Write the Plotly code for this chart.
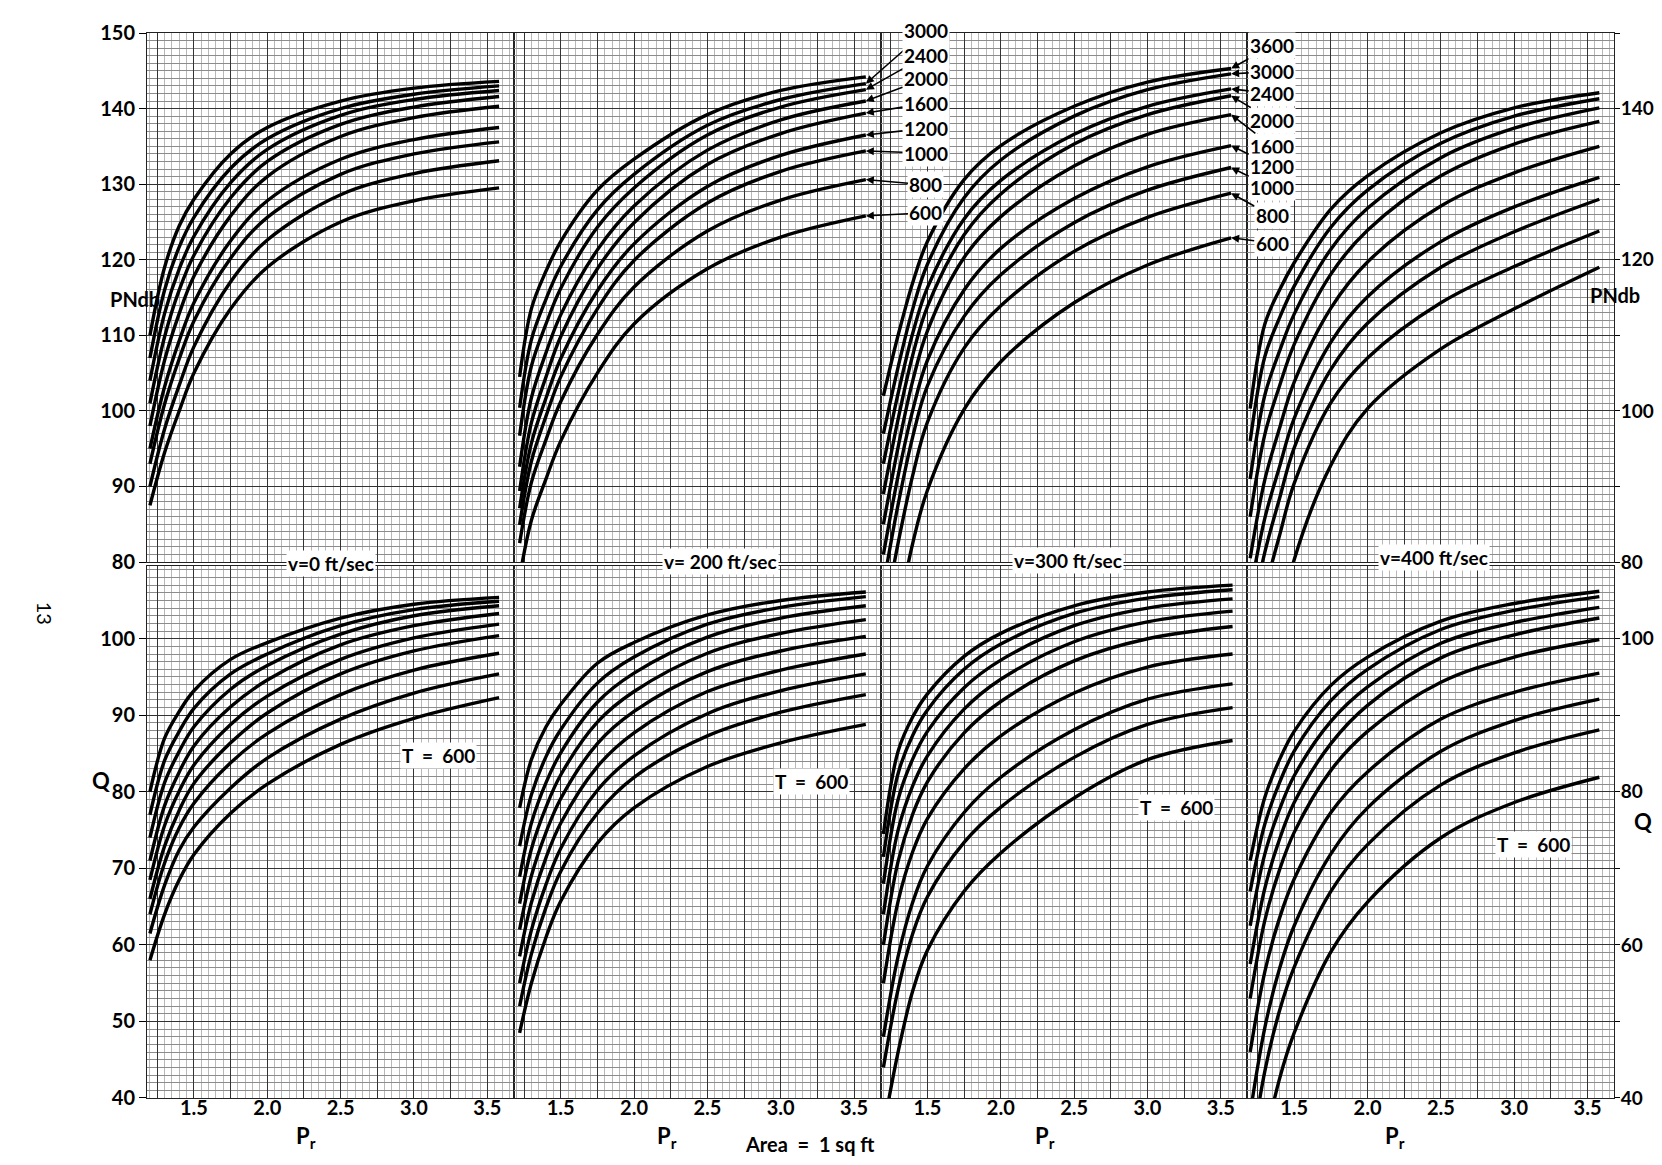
import plotly.graph_objects as go

# ---------------- data ----------------
T_LEVELS = [3600, 3000, 2400, 2000, 1600, 1200, 1000, 800, 600]

# Top row: PNdb vs Pr
PR_TOP_V0 = [1.2, 1.3, 1.4, 1.5, 1.75, 2.0, 2.5, 3.0, 3.58]
PNDB_V0 = {
    3600: [110, 119, 124.5, 128, 134, 137.5, 141, 142.7, 143.6],
    3000: [107.0, 116.0, 121.7, 125.6, 132.1, 136.0, 140.0, 141.9, 143.0],
    2400: [104.0, 112.9, 118.8, 123.1, 130.2, 134.6, 139.1, 141.2, 142.4],
    2000: [101.0, 109.8, 116.0, 120.6, 128.2, 133.0, 137.9, 140.2, 141.6],
    1600: [98.0, 106.7, 112.9, 117.8, 125.8, 131.0, 136.3, 138.8, 140.3],
    1200: [95.0, 103.2, 109.3, 114.3, 122.5, 127.8, 133.3, 135.9, 137.5],
    1000: [93.0, 100.9, 106.9, 111.9, 120.2, 125.6, 131.3, 134.0, 135.6],
    800: [90.0, 97.6, 103.4, 108.5, 117.1, 122.6, 128.6, 131.4, 133.1],
    600: [87.5, 94.5, 100, 105, 113.5, 119, 125, 127.8, 129.5],
}

PR_TOP_V200 = [1.22, 1.3, 1.4, 1.5, 1.75, 2.0, 2.5, 3.0, 3.58]
PNDB_V200 = {
    3600: [104.5, 113.5, 118.5, 122.4, 129.2, 133.3, 139.2, 142.4, 144.2],
    3000: [100.4, 109.4, 114.8, 119.1, 126.6, 131.3, 137.8, 141.2, 143.3],
    2400: [96.7, 105.9, 111.5, 116.2, 124.3, 129.5, 136.5, 140.2, 142.5],
    2000: [92.6, 101.7, 107.7, 112.7, 121.3, 127.1, 134.5, 138.5, 141.0],
    1600: [89.4, 98.4, 104.5, 109.8, 118.8, 124.9, 132.6, 136.7, 139.4],
    1200: [87.1, 95.7, 101.7, 106.9, 115.9, 122.1, 129.7, 133.8, 136.5],
    1000: [84.9, 93.3, 99.3, 104.5, 113.5, 119.9, 127.5, 131.7, 134.4],
    800: [82.5, 90.5, 96.2, 101.2, 110.1, 116.4, 123.8, 127.9, 130.6],
    600: [78, 85.5, 91, 96, 105, 111.5, 118.8, 123, 125.8],
}

PR_TOP_V300 = [1.2, 1.3, 1.4, 1.5, 1.75, 2.0, 2.5, 3.0, 3.57]
PNDB_V300 = {
    3600: [102, 110, 117, 122.4, 130.6, 135.1, 140.3, 143.5, 145.3],
    3000: [97, 105.8, 113.5, 119.4, 128.2, 133.2, 139.0, 142.5, 144.6],
    2400: [93, 102.3, 110.3, 116.3, 125.4, 130.5, 136.6, 140.3, 142.6],
    2000: [89, 98.9, 107.4, 113.8, 123.3, 128.7, 135.3, 139.2, 141.7],
    1600: [85, 95.2, 104, 110.6, 120.3, 125.7, 132.4, 136.6, 139.2],
    1200: [81, 91.4, 100.1, 106.7, 116.0, 121.5, 128.1, 132.3, 135.1],
    1000: [77, 87.6, 96.6, 103.3, 112.5, 118.0, 124.9, 129.2, 132.2],
    800: [72, 82.5, 91.5, 98.5, 108.3, 113.9, 121.1, 125.6, 128.8],
    600: [62, 73, 82.5, 89.5, 100.2, 106.5, 114.3, 119.3, 122.9],
}

PR_TOP_V400 = [1.2, 1.3, 1.4, 1.5, 1.75, 2.0, 2.5, 3.0, 3.58]
PNDB_V400 = {
    3600: [100.3, 111.5, 116, 119.6, 126.7, 131.1, 136.8, 140.1, 142.1],
    3000: [96, 107.2, 112.3, 116.5, 124.3, 129.2, 135.4, 139, 141.3],
    2400: [91, 102.1, 107.9, 112.8, 121.4, 126.8, 133.5, 137.4, 140.1],
    2000: [86, 96.9, 103.3, 108.8, 118.1, 123.9, 131.1, 135.3, 138.3],
    1600: [80.5, 90.9, 97.7, 103.8, 113.6, 119.7, 127.1, 131.5, 135],
    1200: [76, 85.8, 92.6, 99, 109.1, 115.1, 122.4, 127, 130.9],
    1000: [72, 81.3, 88.4, 95.1, 105.5, 111.6, 119, 123.7, 128],
    800: [67, 76.2, 83.5, 90.4, 101.1, 107, 114.3, 119.1, 123.8],
    600: [50, 61, 71.5, 80.3, 92.8, 100.3, 108.2, 113.5, 119],
}

# Bottom row: Q vs Pr
PR_BOT_V0 = [1.2, 1.3, 1.4, 1.5, 1.75, 2.0, 2.5, 3.0, 3.58]
Q_V0 = {
    3600: [80, 87, 90.5, 93.2, 97.3, 99.5, 102.7, 104.5, 105.4],
    3000: [77, 84.1, 87.9, 90.9, 95.4, 98, 101.7, 103.8, 104.9],
    2400: [74, 81.2, 85.3, 88.5, 93.4, 96.5, 100.6, 103, 104.3],
    2000: [71, 78.2, 82.6, 86, 91.1, 94.6, 99.2, 101.7, 103.3],
    1600: [68.5, 75.6, 80.1, 83.5, 88.8, 92.5, 97.3, 100.1, 101.9],
    1200: [66, 72.9, 77.6, 81.1, 86.4, 90.3, 95.4, 98.4, 100.4],
    1000: [64, 70.7, 75.3, 78.5, 83.8, 87.6, 92.7, 95.9, 98.1],
    800: [61.5, 67.8, 72.4, 75.4, 80.5, 84.4, 89.5, 92.9, 95.4],
    600: [58, 64, 68.5, 71.8, 77.2, 81, 86.2, 89.6, 92.3],
}

PR_BOT_V200 = [1.22, 1.3, 1.4, 1.5, 1.75, 2.0, 2.5, 3.0, 3.58]
Q_V200 = {
    3600: [77.9, 84.2, 88.5, 91.4, 96.8, 99.5, 103.1, 105, 106.1],
    3000: [72.9, 79.6, 84.6, 88.1, 94.2, 97.6, 101.9, 104.1, 105.5],
    2400: [68.9, 75.9, 81.2, 85.1, 91.7, 95.5, 100.2, 102.7, 104.3],
    2000: [65.4, 72.5, 78, 82.2, 89.1, 93.1, 98.1, 100.7, 102.5],
    1600: [62, 69, 74.7, 79.1, 86.3, 90.5, 95.7, 98.4, 100.3],
    1200: [58.5, 65.5, 71.4, 75.9, 83.3, 87.7, 93.1, 95.9, 98],
    1000: [55, 61.9, 67.9, 72.6, 80.2, 84.7, 90.2, 93.2, 95.4],
    800: [52, 58.8, 64.9, 69.6, 77.2, 81.9, 87.3, 90.4, 92.7],
    600: [48.5, 55, 61, 65.7, 73.3, 77.9, 83.3, 86.4, 88.8],
}

PR_BOT_V300 = [1.2, 1.3, 1.4, 1.5, 1.75, 2.0, 2.5, 3.0, 3.58]
Q_V300 = {
    3600: [74.5, 85.3, 89.8, 92.8, 97.7, 100.7, 104.3, 106.1, 107],
    3000: [71.5, 82.4, 87.4, 90.7, 96, 99.3, 103.3, 105.3, 106.4],
    2400: [68, 79, 84.3, 87.9, 93.6, 97.2, 101.7, 104, 105.2],
    2000: [64, 75, 80.8, 84.7, 90.8, 94.7, 99.6, 102.2, 103.6],
    1600: [60, 70.9, 77.1, 81.3, 87.7, 91.8, 97.1, 100, 101.6],
    1200: [55, 65.7, 72.2, 76.5, 83, 87.3, 92.9, 96.3, 98],
    1000: [48, 58.5, 65.6, 70.3, 77.3, 81.9, 88.1, 92.1, 94.1],
    800: [44, 54.2, 61.5, 66.3, 73.4, 78, 84.5, 88.8, 91],
    600: [36, 46, 54, 59.3, 67, 72, 79.2, 84.2, 86.7],
}

PR_BOT_V400 = [1.2, 1.3, 1.4, 1.5, 1.75, 2.0, 2.5, 3.0, 3.58]
Q_V400 = {
    3600: [71, 79.3, 84.2, 87.9, 93.9, 97.6, 102.3, 104.6, 106.2],
    3000: [67, 75.8, 81.2, 85.3, 91.9, 96, 101.2, 103.7, 105.5],
    2400: [62.5, 71.9, 77.7, 82.1, 89.2, 93.7, 99.4, 102.1, 104.1],
    2000: [57.5, 67.4, 73.8, 78.6, 86.3, 91.3, 97.5, 100.5, 102.7],
    1600: [53, 63.2, 69.8, 74.7, 82.8, 87.9, 94.3, 97.6, 99.9],
    1200: [46, 56.5, 63.5, 68.6, 77.3, 82.6, 89.5, 93, 95.5],
    1000: [38, 49.2, 56.9, 62.5, 71.9, 77.9, 85.3, 89.3, 92.1],
    800: [32, 43.5, 51.4, 57.1, 67, 73.1, 80.9, 85.1, 88.1],
    600: [22, 34, 42.5, 48.5, 59.1, 65.6, 74, 78.6, 81.9],
}

PANEL_TITLES = ["v=0 ft/sec", "v= 200 ft/sec", "v=300 ft/sec", "v=400 ft/sec"]
X_TICKS = [1.25, 1.5, 1.75, 2.0, 2.25, 2.5, 2.75, 3.0, 3.25, 3.5]
X_TICKTEXT = [" ", "1.5", " ", "2.0", " ", "2.5", " ", "3.0", " ", "3.5"]
Y_TOP_TICKS = [80, 90, 100, 110, 120, 130, 140, 150]
Y_BOT_TICKS = [40, 50, 60, 70, 80, 90, 100]

# Curve-label positions (text) for panels 2 and 3 of the top row
LABELS_V200 = [(3000, 150.3), (2400, 147.0), (2000, 144.0), (1600, 140.7),
               (1200, 137.4), (1000, 134.1), (800, 129.9), (600, 126.2)]
LABELS_V300 = [(3600, 148.3), (3000, 144.9), (2400, 142.0), (2000, 138.4),
               (1600, 135.0), (1200, 132.4), (1000, 129.5), (800, 125.8), (600, 122.2)]
T600_POS = [(3.17, 84.8), (3.21, 81.3), (3.20, 78.0), (3.13, 73.1)]

# ---------------- figure ----------------
FONT = "Lato"
W, H = 1662, 1165
ML, MR, MT, MB = 139, 56, 19, 75
PW, PH = W - ML - MR, H - MT - MB


def px(xp):
    return (xp - ML) / PW


def py(yp):
    return (H - MB - yp) / PH


panels = [
    (PR_TOP_V0, PNDB_V0), (PR_TOP_V200, PNDB_V200),
    (PR_TOP_V300, PNDB_V300), (PR_TOP_V400, PNDB_V400),
    (PR_BOT_V0, Q_V0), (PR_BOT_V200, Q_V200),
    (PR_BOT_V300, Q_V300), (PR_BOT_V400, Q_V400),
]

fig = go.Figure()
for i, (pr, data) in enumerate(panels):
    n = i + 1
    for t in T_LEVELS:
        fig.add_trace(go.Scatter(
            x=pr, y=data[t], mode="lines",
            xaxis=f"x{n}", yaxis=f"y{n}",
            line=dict(color="black", width=3.4, shape="spline", smoothing=1.0),
            showlegend=False, hoverinfo="skip"))

layout = dict(
    width=W, height=H, margin=dict(l=ML, r=MR, t=MT, b=MB),
    paper_bgcolor="white", plot_bgcolor="white",
    font=dict(family=FONT, size=20, color="black"),
    showlegend=False,
)

top_dom = [py(551), 1.0]
bot_dom = [0.0, py(555)]

for i in range(8):
    n = i + 1
    r, c = divmod(i, 4)
    xk = "xaxis" if n == 1 else f"xaxis{n}"
    yk = "yaxis" if n == 1 else f"yaxis{n}"
    layout[xk] = dict(
        domain=[c / 4, (c + 1) / 4], anchor=f"y{n}", range=[1.18, 3.68],
        tickmode="array", tickvals=X_TICKS, ticktext=X_TICKTEXT,
        showticklabels=(r == 1), ticks="", ticklabelstandoff=-8,
        tickfont=dict(family=FONT, size=20, weight="bold"),
        showgrid=True, gridcolor="#333", gridwidth=1,
        minor=dict(tick0=1.2, dtick=0.05, showgrid=True, gridcolor="#b8b8b8", gridwidth=0.7),
        showline=True, linecolor="#222", linewidth=1, mirror=True,
        zeroline=False, fixedrange=True,
    )
    if r == 0:
        yrange, yticks = [80, 150], Y_TOP_TICKS
        right_text = [str(v) if v in (80, 100, 120, 140) else " " for v in yticks]
    else:
        yrange, yticks = [40, 109.5], Y_BOT_TICKS
        right_text = [str(v) if v in (40, 60, 80, 100) else " " for v in yticks]
    ydict = dict(
        domain=top_dom if r == 0 else bot_dom, anchor=f"x{n}", range=yrange,
        tickmode="array", tickvals=yticks,
        showgrid=True, gridcolor="#333", gridwidth=1.1,
        minor=dict(tick0=0, dtick=1, showgrid=True, gridcolor="#8c8c8c", gridwidth=0.8),
        showline=True, linecolor="#222", linewidth=1, mirror=True,
        zeroline=False, fixedrange=True,
        tickfont=dict(family=FONT, size=20, weight="bold"),
    )
    if c == 0:
        ydict.update(ticktext=[str(v) for v in yticks], showticklabels=True,
                     ticks="outside", ticklen=7, tickcolor="black", side="left")
    elif c == 3:
        ydict.update(ticktext=right_text, showticklabels=True, ticklabelstandoff=-3,
                     ticks="outside", ticklen=5, tickcolor="black", side="right",
                     tickfont=dict(family=FONT, size=19, weight="bold"))
    else:
        ydict.update(showticklabels=False, ticks="")
    layout[yk] = ydict

fig.update_layout(**layout)

ann = []
lab_font = dict(family=FONT, size=19, color="black", weight="bold")

# panel captions
for title, xpix, ypix in zip(PANEL_TITLES, [323, 712, 1060, 1426], [552, 550, 549, 546]):
    ann.append(dict(text=title, xref="paper", yref="paper", x=px(xpix), y=py(ypix),
                    showarrow=False, font=lab_font, bgcolor="white",
                    xanchor="center", yanchor="middle"))

# T = 600 labels
for k, (xv, yv) in enumerate(T600_POS):
    n = 5 + k
    ann.append(dict(text="T  =  600", xref=f"x{n}", yref=f"y{n}", x=xv, y=yv,
                    showarrow=False, font=lab_font, bgcolor="white"))

# curve labels with arrows
for (t, ytxt) in LABELS_V200:
    ann.append(dict(text=str(t), xref="x2", yref="y2",
                    x=PR_TOP_V200[-1], y=PNDB_V200[t][-1],
                    axref="x2", ayref="y2", ax=3.99, ay=ytxt,
                    showarrow=True, arrowhead=2, arrowsize=1, arrowwidth=1.6,
                    arrowcolor="black", font=lab_font, bgcolor="white"))
for (t, ytxt) in LABELS_V300:
    ann.append(dict(text=str(t), xref="x3", yref="y3",
                    x=PR_TOP_V300[-1], y=PNDB_V300[t][-1],
                    axref="x3", ayref="y3", ax=3.85, ay=ytxt,
                    showarrow=True, arrowhead=2, arrowsize=1, arrowwidth=1.6,
                    arrowcolor="black", font=lab_font, bgcolor="white"))

# axis titles
axis_font = dict(family=FONT, size=20, color="black", weight="bold")
big_font = dict(family=FONT, size=22, color="black", weight="bold")
ann.append(dict(text="PNdb", xref="paper", yref="paper", x=px(100), y=py(272),
                showarrow=False, font=axis_font))
ann.append(dict(text="PNdb", xref="paper", yref="paper", x=px(1634), y=py(268),
                showarrow=False, font=axis_font))
ann.append(dict(text="Q", xref="paper", yref="paper", x=px(82), y=py(786),
                showarrow=False, font=big_font))
ann.append(dict(text="Q", xref="paper", yref="paper", x=px(1646), y=py(828),
                showarrow=False, font=big_font))
for xpix in [286, 659, 1037, 1399]:
    ann.append(dict(text="P<sub>r</sub>", xref="paper", yref="paper",
                    x=px(xpix), y=py(1146), showarrow=False, font=big_font))
ann.append(dict(text="Area  =  1 sq ft", xref="paper", yref="paper",
                x=px(802), y=py(1150), showarrow=False, font=axis_font))
ann.append(dict(text="13", xref="paper", yref="paper", x=px(23), y=py(602),
                showarrow=False, textangle=90, font=dict(family=FONT, size=20, color="black")))

fig.update_layout(annotations=ann)
fig.write_html("out.html")
